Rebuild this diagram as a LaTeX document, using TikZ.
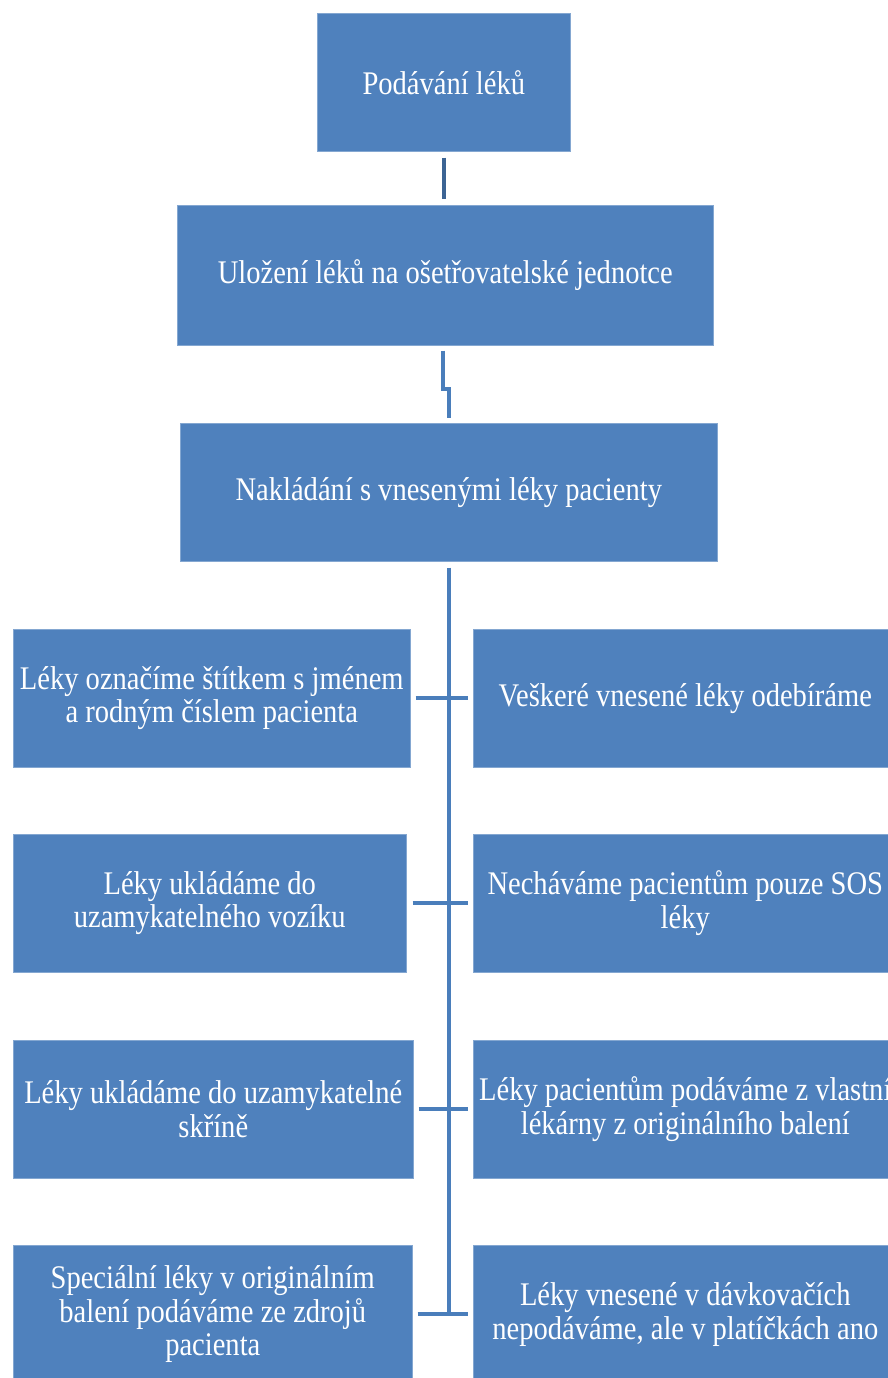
\documentclass[tikz,border=0pt]{standalone}
\usepackage{fontspec}
\setmainfont{Liberation Serif}[FakeStretch=0.865]
\usetikzlibrary{calc}
\definecolor{boxblue}{HTML}{4F81BD}
\definecolor{linkblue}{HTML}{4A7EBB}
\definecolor{linkdark}{HTML}{3C6494}
\tikzset{
  card/.style={fill=boxblue, draw=boxblue!70!white, line width=0.6pt, text=white,
    anchor=north west, inner sep=0pt, align=center,
    font=\fontsize{33}{33.5}\selectfont},
  link/.style={draw=linkblue, line width=4pt},
}
\begin{document}
\begin{tikzpicture}[x=1pt,y=-1pt]
\useasboundingbox (0,0) rectangle (888,1378);
\clip (0,0) rectangle (888,1378);
% top chain
\node[card, minimum width=253, minimum height=138] (b1) at (317,13) {Podávání léků};
\node[card, minimum width=536, minimum height=140] (b2) at (177,205) {Uložení léků na ošetřovatelské jednotce};
\node[card, minimum width=537, minimum height=138] (b3) at (180,423) {Nakládání s vnesenými léky pacienty};
% left column
\node[card, minimum width=397, minimum height=138] (l1) at (13,629) {Léky označíme štítkem s jménem\\a rodným číslem pacienta};
\node[card, minimum width=393, minimum height=138] (l2) at (13,834) {Léky ukládáme do\\uzamykatelného vozíku};
\node[card, minimum width=400, minimum height=138] (l3) at (13,1040) {Léky ukládáme do uzamykatelné\\skříně};
\node[card, minimum width=399, minimum height=138] (l4) at (13,1245) {Speciální léky v originálním\\balení podáváme ze zdrojů\\pacienta};
% right column
\node[card, minimum width=424, minimum height=138] (r1) at (473,629) {Veškeré vnesené léky odebíráme};
\node[card, minimum width=424, minimum height=138] (r2) at (473,834) {Necháváme pacientům pouze SOS\\léky};
\node[card, minimum width=424, minimum height=138] (r3) at (473,1040) {Léky pacientům podáváme z vlastní\\lékárny z originálního balení};
\node[card, minimum width=424, minimum height=138] (r4) at (473,1245) {Léky vnesené v dávkovačích\\nepodáváme, ale v platíčkách ano};
% connectors
\draw[link, draw=linkdark] ($(b1.south)+(0,6)$) -- ($(b1.south |- b2.north)+(0,-6)$);
\draw[link] ($(b2.south)+(-2,5)$) -- ++(0,38) coordinate (jog) -- (jog -| b3.north) -- ($(b3.north)+(0,-5)$);
\draw[link] ($(b3.south)+(0,6)$) -- (b3.south |- l4.east);
\draw[link] ($(l1.east)+(5,0)$) -- ($(r1.west)+(-5,0)$);
\draw[link] ($(l2.east)+(6,0)$) -- ($(r2.west)+(-5,0)$);
\draw[link] ($(l3.east)+(5,0)$) -- ($(r3.west)+(-5,0)$);
\draw[link] ($(l4.east)+(5,0)$) -- ($(r4.west)+(-5,0)$);
\end{tikzpicture}
\end{document}
